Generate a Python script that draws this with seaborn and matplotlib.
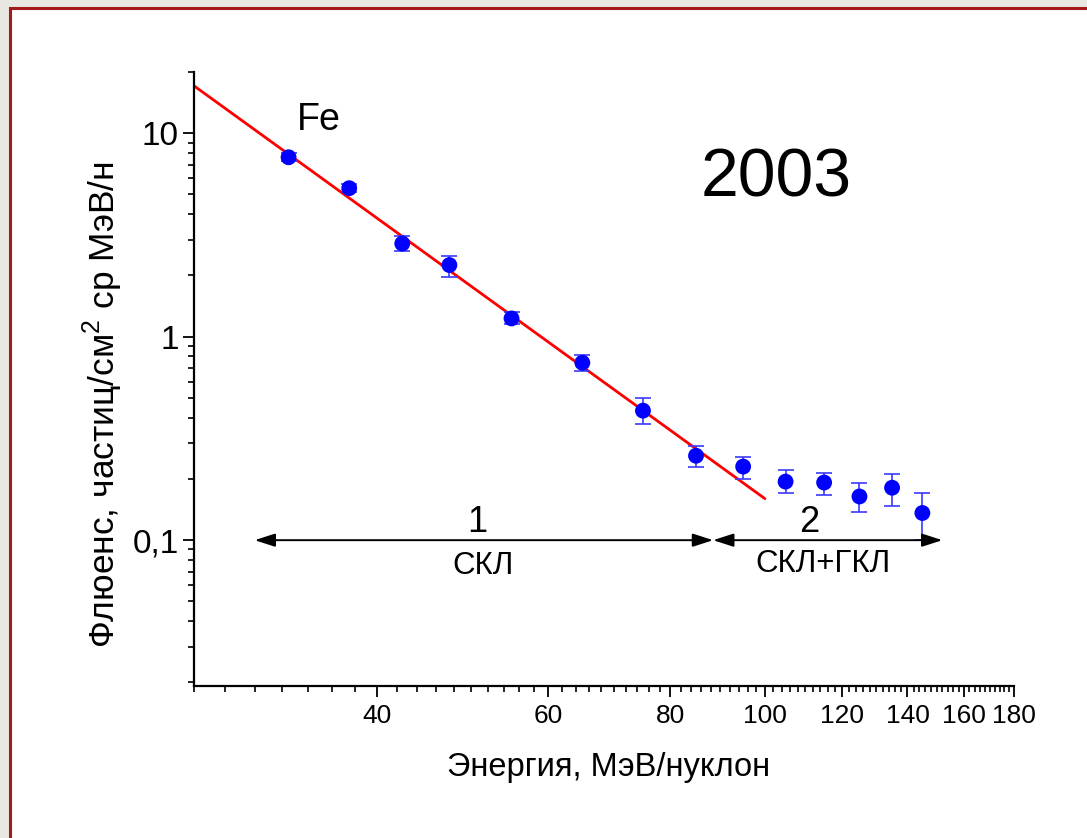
import numpy as np
import pandas as pd
import matplotlib
matplotlib.use("Agg")
import matplotlib.pyplot as plt
import seaborn as sns
from matplotlib.patches import Rectangle
from matplotlib.ticker import FixedLocator, FixedFormatter, NullFormatter

# ---- data ----
energy = [32.5, 37.5, 42.5, 47.5, 55, 65, 75, 85, 95, 105, 115, 125, 135, 145]
fluence = [7.62, 5.37, 2.87, 2.25, 1.23, 0.745, 0.433, 0.260,
           0.230, 0.194, 0.192, 0.164, 0.181, 0.136]
fluence_upper = [7.97, 5.61, 3.12, 2.49, 1.32, 0.816, 0.50, 0.291,
                 0.255, 0.221, 0.215, 0.190, 0.212, 0.171]
fluence_lower = [7.28, 5.13, 2.64, 1.97, 1.15, 0.681, 0.374, 0.230,
                 0.200, 0.171, 0.167, 0.138, 0.148, 0.100]
fit_energy = [26, 100]
fit_fluence = [17.1, 0.16]
range1 = [30, 88.5]
range2 = [88.5, 152]
range_level = 0.1
x_major = [40, 60, 80, 100, 120, 140, 160, 180]
x_minor = [v for v in range(26, 181, 2) if v not in x_major]
y_major = [0.1, 1, 10]
y_major_labels = ["0,1", "1", "10"]
y_minor = [m * d for d in (0.01, 0.1, 1, 10) for m in range(2, 10)]

df = pd.DataFrame({"energy": energy, "fluence": fluence})
fit_df = pd.DataFrame({"energy": fit_energy, "fluence": fit_fluence})

sns.set_theme(style="ticks")
plt.rcParams["font.family"] = ["Liberation Sans", "DejaVu Sans"]
plt.rcParams["mathtext.fontset"] = "custom"
plt.rcParams["mathtext.rm"] = "Liberation Sans"
plt.rcParams["text.color"] = "black"
plt.rcParams["axes.labelcolor"] = "black"
plt.rcParams["xtick.color"] = "black"
plt.rcParams["ytick.color"] = "black"

fig = plt.figure(figsize=(10.87, 8.38), dpi=100)
fig.patch.set_facecolor("#e9e7e2")
# white panel with dark red border
fig.patches.append(Rectangle((10 / 1087, -0.01), 1.1, 1 - 8 / 838 + 0.01,
                             transform=fig.transFigure, facecolor="white",
                             edgecolor="#a31a1a", linewidth=2.2, zorder=-10))

ax = fig.add_axes([194 / 1087, 1 - 686 / 838, 820 / 1087, (686 - 72) / 838])
ax.set_zorder(5)
ax.set_facecolor("none")
ax.set_xscale("log")
ax.set_yscale("log")
ax.set_xlim(26, 180)
ax.set_ylim(0.0192, 20)

# fit line
sns.lineplot(data=fit_df, x="energy", y="fluence", ax=ax, color="#ff0000",
             linewidth=2.0, zorder=2)

# error bars
yerr = np.array([np.array(fluence) - np.array(fluence_lower),
                 np.array(fluence_upper) - np.array(fluence)])
ax.errorbar(energy, fluence, yerr=yerr, fmt="none", ecolor="#3a3aff",
            elinewidth=1.2, capsize=6, capthick=1.2, zorder=3)
# points
sns.scatterplot(data=df, x="energy", y="fluence", ax=ax, color="#0000ff",
                s=130, edgecolor="none", zorder=4)

# range arrows
for (a, b) in (range1, range2):
    ax.annotate("", xy=(b, range_level), xytext=(a, range_level),
                arrowprops=dict(arrowstyle="<|-|>,head_length=0.62,head_width=0.2",
                                mutation_scale=20, color="black", lw=1.4,
                                shrinkA=0, shrinkB=0), zorder=5)

ax.text(50.7, 0.122, "1", fontsize=26, ha="center", va="center")
ax.text(51.4, 0.0745, "СКЛ", fontsize=22.5, ha="center", va="center")
ax.text(111, 0.122, "2", fontsize=26, ha="center", va="center")
ax.text(114.8, 0.0765, "СКЛ+ГКЛ", fontsize=22.5, ha="center", va="center")
ax.text(34.9, 11.6, "Fe", fontsize=27, ha="center", va="center")
ax.text(102.8, 6.0, "2003", fontsize=49, ha="center", va="center")

# axes styling
sns.despine(ax=ax)
for s in ("left", "bottom"):
    ax.spines[s].set_linewidth(1.6)
    ax.spines[s].set_color("black")
ax.xaxis.set_major_locator(FixedLocator(x_major))
ax.xaxis.set_major_formatter(FixedFormatter([str(v) for v in x_major]))
ax.xaxis.set_minor_locator(FixedLocator(x_minor))
ax.xaxis.set_minor_formatter(NullFormatter())
ax.yaxis.set_major_locator(FixedLocator(y_major))
ax.yaxis.set_major_formatter(FixedFormatter(y_major_labels))
ax.yaxis.set_minor_locator(FixedLocator(y_minor))
ax.yaxis.set_minor_formatter(NullFormatter())
ax.tick_params(which="major", direction="out", length=8, width=1.3,
               colors="black", pad=5)
ax.tick_params(axis="x", which="major", labelsize=19)
ax.tick_params(axis="y", which="major", labelsize=24, pad=3)
ax.tick_params(which="minor", direction="out", length=4.5, width=1.2,
               colors="black")

ax.set_xlabel("Энергия, МэВ/нуклон", fontsize=23.5, color="black")
ax.set_ylabel("Флюенс, частиц/см$^2$ ср МэВ/н", fontsize=25.5, color="black")
ax.xaxis.set_label_coords(0.505, -0.108)
ax.yaxis.set_label_coords(-0.084, 0.458)

fig.savefig("out.png", dpi=100, facecolor=fig.get_facecolor())
